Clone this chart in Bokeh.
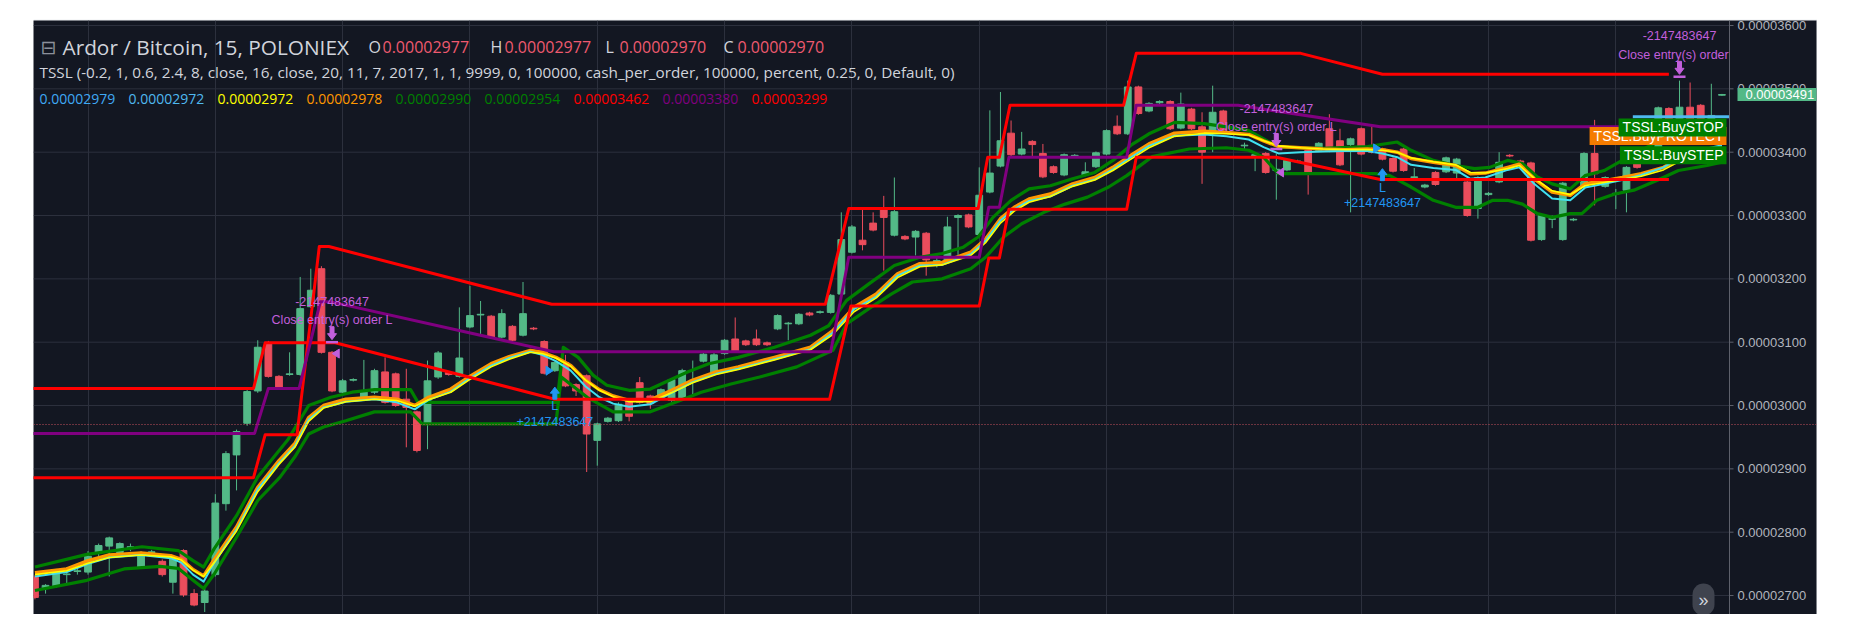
from bokeh.plotting import figure
from bokeh.models import Range1d, FixedTicker, Label, Span, ColumnDataSource, Grid
from bokeh.core.properties import value
from bokeh.embed import file_html
from bokeh.resources import INLINE

SAT = 1e-8  # values below are in satoshi (1e-8 BTC)

OPEN = [2729, 2711, 2715, 2733, 2738, 2737, 2767, 2778, 2768, 2776,
        2745, 2768, 2754, 2721, 2771, 2703, 2689, 2733, 2845, 2922,
        2972, 3023, 3099, 3046, 3049, 3049, 3156, 3216, 3084, 3021,
        3040, 3013, 3021, 3053, 3050, 3010, 2990, 2970, 3045, 3052,
        3046, 3124, 3143, 3141, 3108, 3125, 3111, 3122, 3101, 3055,
        3068, 3033, 3047, 2945, 2975, 2976, 3009, 3036, 3015, 3016,
        3008, 3010, 3039, 3070, 3050, 3082, 3105, 3102, 3105, 3099,
        3121, 3129, 3129, 3146, 3147, 3147, 3176, 3242, 3261, 3288,
        3312, 3269, 3267, 3266, 3272, 3221, 3229, 3297, 3301, 3270,
        3337, 3378, 3430, 3397, 3417, 3398, 3377, 3364, 3394, 3364,
        3377, 3397, 3441, 3429, 3503, 3465, 3478, 3480, 3438, 3468,
        3440, 3432, 3465, 3430, 3410, 3393, 3398, 3371, 3372, 3385,
        3403, 3403, 3437, 3418, 3412, 3437, 3402, 3405, 3390, 3405,
        3360, 3345, 3368, 3369, 3367, 3353, 3311, 3333, 3353, 3395,
        3386, 3383, 3262, 3294, 3262, 3293, 3345, 3398, 3346, 3334,
        3340, 3390, 3385, 3390, 3469, 3442, 3471, 3474, 3442, 3490]
HIGH = [2732, 2718, 2742, 2745, 2744, 2770, 2782, 2793, 2784, 2782,
        2770, 2772, 2757, 2760, 2773, 2710, 2712, 2860, 2928, 2962,
        3025, 3103, 3102, 3048, 3084, 3203, 3216, 3220, 3086, 3042,
        3043, 3072, 3058, 3076, 3052, 3058, 2992, 3071, 3086, 3054,
        3155, 3189, 3165, 3143, 3152, 3127, 3195, 3124, 3103, 3070,
        3080, 3035, 3049, 2973, 2982, 3005, 3011, 3045, 3017, 3027,
        3043, 3058, 3071, 3083, 3083, 3105, 3139, 3104, 3120, 3101,
        3144, 3132, 3146, 3148, 3150, 3176, 3305, 3285, 3310, 3305,
        3331, 3360, 3269, 3277, 3274, 3240, 3298, 3302, 3303, 3376,
        3466, 3495, 3450, 3432, 3419, 3413, 3379, 3398, 3397, 3384,
        3401, 3436, 3458, 3513, 3505, 3479, 3482, 3482, 3494, 3470,
        3463, 3505, 3467, 3432, 3415, 3400, 3400, 3398, 3389, 3388,
        3405, 3416, 3460, 3437, 3423, 3439, 3440, 3407, 3392, 3407,
        3375, 3350, 3370, 3393, 3391, 3355, 3362, 3337, 3400, 3397,
        3388, 3385, 3302, 3300, 3353, 3296, 3400, 3451, 3362, 3342,
        3378, 3392, 3395, 3472, 3471, 3513, 3510, 3476, 3508, 3492]
LOW = [2694, 2703, 2712, 2718, 2733, 2733, 2762, 2730, 2765, 2770,
       2742, 2764, 2730, 2703, 2698, 2683, 2674, 2730, 2834, 2866,
       2968, 3020, 3044, 3027, 3047, 3047, 3154, 3082, 3021, 3018,
       3038, 3011, 3018, 3003, 2998, 2934, 2926, 2931, 3042, 3047,
       3044, 3122, 3113, 3106, 3106, 3101, 3109, 3119, 3049, 3053,
       3029, 3015, 2895, 2905, 2973, 2974, 2975, 3003, 2995, 3014,
       3006, 3008, 3018, 3068, 3048, 3080, 3084, 3094, 3094, 3094,
       3119, 3103, 3127, 3141, 3145, 3145, 3174, 3240, 3245, 3275,
       3213, 3267, 3261, 3237, 3205, 3218, 3227, 3234, 3280, 3268,
       3335, 3376, 3394, 3395, 3392, 3359, 3366, 3362, 3392, 3362,
       3375, 3395, 3427, 3427, 3459, 3463, 3476, 3435, 3436, 3435,
       3350, 3400, 3433, 3426, 3405, 3370, 3366, 3325, 3370, 3383,
       3333, 3401, 3400, 3378, 3305, 3395, 3398, 3387, 3368, 3369,
       3355, 3343, 3347, 3367, 3355, 3298, 3295, 3331, 3351, 3392,
       3382, 3259, 3260, 3280, 3260, 3291, 3343, 3316, 3344, 3310,
       3305, 3374, 3383, 3388, 3443, 3440, 3440, 3440, 3440, 3489]
CLOSE = [2697, 2716, 2738, 2734, 2739, 2762, 2779, 2791, 2782, 2777,
         2767, 2769, 2733, 2758, 2701, 2685, 2707, 2846, 2924, 2959,
         3022, 3092, 3046, 3029, 3050, 3153, 3182, 3084, 3023, 3039,
         3041, 3021, 3055, 3005, 3000, 2997, 2929, 3039, 3083, 3049,
         3075, 3142, 3144, 3108, 3145, 3103, 3145, 3121, 3051, 3068,
         3031, 3023, 2955, 2971, 2980, 3002, 2983, 3005, 3003, 3025,
         3041, 3055, 3040, 3081, 3080, 3103, 3086, 3096, 3096, 3096,
         3142, 3130, 3144, 3143, 3148, 3174, 3262, 3282, 3254, 3277,
         3297, 3306, 3263, 3275, 3230, 3229, 3282, 3300, 3282, 3332,
         3367, 3418, 3396, 3405, 3412, 3361, 3368, 3396, 3395, 3369,
         3399, 3434, 3429, 3503, 3461, 3477, 3480, 3437, 3476, 3437,
         3400, 3463, 3435, 3428, 3411, 3396, 3368, 3373, 3387, 3386,
         3368, 3414, 3402, 3380, 3421, 3397, 3400, 3389, 3370, 3371,
         3361, 3348, 3349, 3391, 3389, 3300, 3360, 3335, 3384, 3394,
         3384, 3261, 3300, 3295, 3351, 3294, 3398, 3366, 3360, 3335,
         3376, 3376, 3392, 3470, 3445, 3471, 3442, 3442, 3458, 3491]

# indicator vertices: (bar index, value in satoshi)
RED_A = [(-0.2, 3027), (20.6, 3027), (21.7, 3099), (28.3, 3099), (49, 3010), (74.9, 3010),
         (76.9, 3157), (89, 3157), (89.9, 3233), (90.9, 3233), (91.8, 3310), (102.9, 3310),
         (103.8, 3392), (117, 3392), (126.8, 3357), (154, 3357)]
RED_B = [(-0.2, 2886), (20.6, 2886), (21.7, 2954), (24.7, 2954), (26.8, 3251), (27.7, 3251),
         (48.7, 3160), (74.5, 3160), (76.7, 3311), (88.9, 3311), (89.8, 3392), (90.9, 3392),
         (91.9, 3474), (102.6, 3474), (103.8, 3556), (119.3, 3556), (127, 3523), (154, 3523)]
PURPLE = [(-0.2, 2956), (20.7, 2956), (22, 3027), (24.9, 3027), (26.9, 3164), (27.8, 3164),
          (48.9, 3085), (75, 3085), (76.7, 3234), (89, 3234), (89.9, 3313), (90.9, 3313),
          (91.8, 3392), (102.9, 3392), (103.8, 3474), (113.4, 3474), (126.8, 3440), (150.5, 3440)]
GREEN_UP = [(0, 2745), (4.9, 2765), (10.1, 2777), (13.5, 2771), (14.9, 2755), (15.9, 2745),
            (16.9, 2774), (19, 2826), (21, 2887), (23.8, 2945), (25.8, 3000), (27.9, 3013),
            (29.9, 3021), (32, 3025), (35.4, 3025), (36.1, 3005), (49.2, 3005), (49.8, 3092),
            (51.2, 3076), (52.6, 3048), (53.9, 3032), (56, 3024), (58, 3026), (59.8, 3040),
            (61.5, 3053), (63.5, 3066), (66.3, 3076), (69.7, 3092), (73.1, 3111), (74.8, 3126),
            (76.5, 3166), (78.6, 3192), (81, 3221), (83.4, 3234), (85.5, 3240), (87.5, 3250),
            (88.9, 3266), (90.3, 3297), (92, 3324), (93.7, 3342), (95.7, 3347), (97.8, 3358),
            (99.9, 3368), (101.6, 3387), (103.3, 3411), (105, 3429), (107.4, 3447), (110.2, 3445),
            (112.3, 3440), (114.4, 3434), (115.8, 3421), (117.2, 3408), (121.4, 3406), (125.6, 3409),
            (128.4, 3416), (129.7, 3403), (131.8, 3387), (133.9, 3379), (135.7, 3374), (137.1, 3376),
            (138.8, 3387), (140.2, 3382), (141.6, 3361), (143, 3350), (144.7, 3342), (146.1, 3363),
            (147.9, 3371), (149.6, 3387), (151.4, 3403), (153.5, 3421), (155.6, 3434), (157.6, 3442),
            (159, 3446)]
GREEN_DN = [(0, 2708), (4.9, 2724), (8.4, 2742), (11.8, 2746), (13.5, 2743), (14.9, 2724),
            (15.9, 2711), (16.9, 2734), (19, 2792), (21, 2850), (23.1, 2887), (24.5, 2919),
            (25.8, 2955), (27.2, 2966), (29.3, 2976), (32, 2990), (35.4, 2990), (36.5, 2971),
            (49.1, 2971), (49.6, 3045), (52.05, 3013), (54.5, 2990), (58, 2990), (60.8, 3008),
            (62.8, 3021), (65.6, 3034), (68.3, 3045), (71.8, 3061), (75.2, 3087), (76.5, 3129),
            (78.6, 3153), (80.7, 3176), (82.7, 3195), (85.5, 3200), (88.2, 3216), (89.6, 3234),
            (91.3, 3266), (93, 3287), (95.1, 3305), (97.1, 3318), (99.2, 3329), (101.2, 3345),
            (102.9, 3363), (105.3, 3393), (108.8, 3405), (112.3, 3407), (114.4, 3403), (115.8, 3392),
            (117.2, 3366), (126.3, 3366), (127.7, 3363), (129.7, 3345), (131.8, 3324), (133.9, 3313),
            (136, 3313), (137.4, 3324), (138.8, 3324), (140.2, 3318), (141.6, 3303), (143, 3297),
            (144.7, 3303), (145.8, 3303), (147.2, 3324), (148.9, 3334), (150.7, 3340), (152.8, 3355),
            (154.9, 3371), (157.6, 3379), (159, 3384)]
ORANGE = [(0, 2736), (3, 2742), (5, 2755), (7, 2764), (10, 2767), (12.8, 2763), (13.8, 2757),
          (14.9, 2741), (15.9, 2731), (16.9, 2757), (19, 2808), (21, 2871), (23, 2913), (24.5, 2940),
          (25.8, 2981), (27.2, 3000), (29.3, 3010), (32, 3013), (34.1, 3010), (35.8, 3000), (37.1, 3013),
          (39.2, 3026), (40.9, 3045), (43, 3066), (44.7, 3077), (46.7, 3087), (47.8, 3084), (49.1, 3076),
          (50.5, 3063), (51.9, 3040), (53.2, 3025), (54.5, 3015), (56, 3008), (58, 3009), (60, 3024),
          (62, 3040), (64.2, 3053), (66.3, 3061), (69.7, 3076), (73.1, 3092), (75.2, 3118), (77.2, 3155),
          (79.3, 3176), (81.3, 3208), (83.4, 3224), (85.5, 3226), (88.2, 3242), (89.6, 3263), (91, 3295),
          (92.3, 3313), (93.7, 3326), (95.7, 3334), (97.8, 3350), (99.9, 3360), (101.6, 3376),
          (103.3, 3395), (105, 3413), (107.4, 3430), (110.2, 3433), (112.3, 3431), (114.4, 3428),
          (115.8, 3418), (117.2, 3409), (119.3, 3407), (121.4, 3405), (123.5, 3404), (125.6, 3405),
          (127, 3404), (128.4, 3400), (129.7, 3390), (131.8, 3384), (133.9, 3379), (135.3, 3366),
          (136.7, 3367), (138.8, 3376), (139.9, 3381), (141.3, 3358), (143, 3337), (144.7, 3332),
          (146.1, 3350), (147.9, 3355), (149.6, 3360), (151.4, 3366), (153.5, 3376), (155.5, 3395),
          (157.6, 3403), (159, 3408)]
YELLOW = [(0, 2733), (3, 2739), (5, 2751), (7, 2760), (10, 2764), (12.8, 2761), (13.8, 2756),
          (14.9, 2740), (15.9, 2730), (16.9, 2752), (19, 2802), (21, 2864), (23, 2907), (24.5, 2934),
          (25.8, 2975), (27.2, 2996), (29.3, 3006), (32, 3010), (34.1, 3008), (35.8, 2999), (37.1, 3009),
          (39.2, 3021), (40.9, 3040), (43, 3061), (44.7, 3073), (46.7, 3084), (47.8, 3082), (49.1, 3075),
          (50.5, 3062), (51.9, 3040), (53.2, 3024), (54.5, 3014), (56, 3006), (58, 3006), (60, 3020),
          (62, 3036), (64.2, 3049), (66.3, 3057), (69.7, 3072), (73.1, 3088), (75.2, 3112), (77.2, 3148),
          (79.3, 3170), (81.3, 3202), (83.4, 3219), (85.5, 3222), (88.2, 3237), (89.6, 3257), (91, 3288),
          (92.3, 3307), (93.7, 3321), (95.7, 3330), (97.8, 3346), (99.9, 3356), (101.6, 3371),
          (103.3, 3389), (105, 3407), (107.4, 3425), (110.2, 3430), (112.3, 3429), (114.4, 3427),
          (115.8, 3418), (117.2, 3410), (119.3, 3407), (121.4, 3405), (123.5, 3404), (125.6, 3404),
          (127, 3403), (128.4, 3400), (129.7, 3391), (131.8, 3385), (133.9, 3380), (135.3, 3368),
          (136.7, 3367), (138.8, 3374), (139.9, 3379), (141.3, 3359), (143, 3339), (144.7, 3333),
          (146.1, 3347), (147.9, 3352), (149.6, 3357), (151.4, 3362), (153.5, 3372), (155.5, 3390),
          (157.6, 3399), (159, 3404)]
CYAN = [(0, 2730), (3, 2737), (5, 2750), (7, 2760), (10, 2764), (12.8, 2759), (13.8, 2752),
        (14.9, 2733), (15.9, 2722), (16.9, 2752), (19, 2804), (21, 2868), (23, 2909), (24.5, 2936),
        (25.8, 2978), (27.2, 2997), (29.3, 3006), (32, 3010), (34.1, 3005), (35.8, 2994), (37.1, 3009),
        (39.2, 3022), (40.9, 3042), (43, 3063), (44.7, 3075), (46.7, 3085), (47.8, 3080), (49.1, 3070),
        (50.5, 3055), (51.9, 3030), (53.2, 3013), (54.5, 3003), (56, 2998), (58, 3002), (60, 3020),
        (62, 3037), (64.2, 3050), (66.3, 3058), (69.7, 3073), (73.1, 3089), (75.2, 3115), (77.2, 3152),
        (79.3, 3172), (81.3, 3205), (83.4, 3221), (85.5, 3222), (88.2, 3239), (89.6, 3260), (91, 3292),
        (92.3, 3310), (93.7, 3323), (95.7, 3330), (97.8, 3347), (99.9, 3357), (101.6, 3373),
        (103.3, 3392), (105, 3410), (107.4, 3426), (110.2, 3428), (112.3, 3425), (114.4, 3420),
        (115.8, 3408), (117.2, 3398), (119.3, 3400), (121.4, 3401), (123.5, 3402), (125.6, 3402),
        (127, 3398), (128.4, 3392), (129.7, 3380), (131.8, 3375), (133.9, 3372), (135.3, 3358),
        (136.7, 3360), (138.8, 3372), (139.9, 3376), (141.3, 3350), (143, 3327), (144.7, 3324),
        (146.1, 3344), (147.9, 3350), (149.6, 3356), (151.4, 3364), (153.5, 3376), (155.5, 3396),
        (157.6, 3406), (159, 3411)]
BUY_STOP = [(150.6, 3456), (159.7, 3456)]
CURSOR_PRICE = 2970
LAST_PRICE = 3491

# strategy signals
CLOSE_SIG_X = [28, 117, 155]
CLOSE_SIG_Y = [3100, 3405, 3519]
CLOSE_SIG_TEXT = ["Close entry(s) order L", "Close entry(s) order L", "Close entry(s) order"]
SELL_FILL_Y = [3082, 3368, 3445]
ENTRY_SIG_X = [49, 127]
ENTRY_SIG_Y = [3029, 3374]
BUY_FILL_Y = [3055, 3406]
QTY_SELL = "-2147483647"
QTY_BUY = "+2147483647"

Y_TICKS = [2700, 2800, 2900, 3000, 3100, 3200, 3300, 3400, 3500, 3600]
X_GRID = [5, 17, 29, 41, 53, 65, 77, 89, 101, 113, 125, 137, 149]

HEADER_OHLC = [("O", "0.00002977"), ("H", "0.00002977"), ("L", "0.00002970"), ("C", "0.00002970")]
TSSL_PARAMS = ("TSSL (-0.2, 1, 0.6, 2.4, 8, close, 16, close, 20, 11, 7, 2017, 1, 1, 9999, 0, 100000, "
               "cash_per_order, 100000, percent, 0.25, 0, Default, 0)")
TSSL_VALUES = ["0.00002979", "0.00002972", "0.00002972", "0.00002978", "0.00002990",
               "0.00002954", "0.00003462", "0.00003380", "0.00003299"]
TSSL_COLORS = ["#3fa9f5", "#4fb9f0", "#ffff00", "#ff9800", "#008000", "#008000", "#ff0000", "#800080", "#ff0000"]

# ---------------------------------------------------------------- layout
BG = "#131722"
FRAME_LEFT, FRAME_TOP = 33, 20          # page position of the dark panel
FRAME_W, FRAME_H = 1783, 594            # dark panel incl. price-scale strip
BAR0_X, BAR_W = 34.45, 10.61            # page x of bar 0, px per bar
X0 = (FRAME_LEFT - BAR0_X) / BAR_W
X_AX = (1729 - BAR0_X) / BAR_W          # price-scale separator
X1 = (FRAME_LEFT + FRAME_W - BAR0_X) / BAR_W
Y1 = 3607.9
Y0 = Y1 - FRAME_H * 1.5789
XPX = (X1 - X0) / FRAME_W
YPX = (Y1 - Y0) / FRAME_H

p = figure(width=FRAME_W + 1, height=FRAME_H + 1, output_backend="svg", toolbar_location=None,
           x_range=Range1d(X0, X1), y_range=Range1d(Y0 * SAT, Y1 * SAT),
           x_axis_location=None, y_axis_location=None,
           background_fill_color=BG, border_fill_color="#dfe1e6", outline_line_color=None,
           min_border_left=0, min_border_top=1, min_border_bottom=0, min_border_right=1)
p.margin = (FRAME_TOP - 1, 0, 0, FRAME_LEFT)

p.xgrid.visible = False
p.ygrid.visible = False
p.add_layout(Grid(dimension=0, ticker=FixedTicker(ticks=X_GRID), grid_line_color="#2c303d", grid_line_width=1))
n = len(Y_TICKS)
tick_y = [t * SAT for t in Y_TICKS]
p.segment(x0=[X0] * n, x1=[X_AX] * n, y0=tick_y, y1=tick_y, line_color="#2c303d", line_width=1)

p.add_layout(Span(location=CURSOR_PRICE * SAT, dimension="width", line_color="#c4505c",
                  line_dash="1 2", line_width=1.2))

# ---------------------------------------------------------------- candles
UP, DOWN = "#53b987", "#eb4d5c"
idx = list(range(len(OPEN)))
cols = [UP if c >= o else DOWN for o, c in zip(OPEN, CLOSE)]
src = ColumnDataSource(dict(
    x=idx, h=[v * SAT for v in HIGH], l=[v * SAT for v in LOW],
    top=[max(o, c) * SAT for o, c in zip(OPEN, CLOSE)],
    bot=[min(o, c) * SAT for o, c in zip(OPEN, CLOSE)], col=cols))
p.segment(x0="x", y0="l", x1="x", y1="h", line_color="col", line_width=1, source=src)
p.vbar(x="x", width=0.64, top="top", bottom="bot", fill_color="col", line_color="col", line_width=1, source=src)

# ---------------------------------------------------------------- indicator lines
def draw(pts, color, w):
    p.line([a for a, b in pts], [b * SAT for a, b in pts], line_color=color, line_width=w,
           line_join="round")

draw(GREEN_UP, "#008000", 3.2)
draw(GREEN_DN, "#008000", 3.2)
draw(ORANGE, "#ff9800", 3.5)
draw(CYAN, "#40e0f0", 2)
draw(YELLOW, "#ffff00", 1.6)
draw(RED_A, "#ff0000", 3)
draw(RED_B, "#ff0000", 3)
draw(PURPLE, "#800080", 3)
draw(BUY_STOP, "#4fb9f0", 3)

# ---------------------------------------------------------------- price scale (right strip)
AX_COL = "#5d606b"
p.add_layout(Span(location=X_AX, dimension="height", line_color=AX_COL, line_width=1))
p.segment(x0=[X_AX] * n, x1=[X_AX + 4 * XPX] * n, y0=tick_y, y1=tick_y, line_color=AX_COL, line_width=1)
p.text(x=[X_AX + 8 * XPX] * n, y=tick_y, text=["%.8f" % v for v in tick_y],
       text_align="left", text_baseline="middle", text_color="#b2b5be",
       text_font=value("Liberation Sans"), text_font_size=value("13px"))
p.add_layout(Label(x=X_AX, y=LAST_PRICE * SAT, x_offset=8, text="%.8f" % (LAST_PRICE * SAT),
                   text_align="left", text_baseline="middle", text_color="#ffffff",
                   text_font="Liberation Sans", text_font_size="13px",
                   background_fill_color="#53b987", padding=dict(left=8, right=12, top=2, bottom=2)))

# ---------------------------------------------------------------- signals
SIG_PURPLE = "#c25fdc"
SIG_BLUE = "#2196f3"
ann_font = value("Liberation Sans")

dxs, dys = [], []
for x, P in zip(CLOSE_SIG_X, CLOSE_SIG_Y):
    T = P + 2.5 * YPX
    dxs.append([x, x - 4.5 * XPX, x - 2 * XPX, x - 2 * XPX, x + 2 * XPX, x + 2 * XPX, x + 4.5 * XPX])
    dys.append([v * SAT for v in [T, T + 6 * YPX, T + 6 * YPX, T + 13 * YPX, T + 13 * YPX, T + 6 * YPX, T + 6 * YPX]])
p.patches(dxs, dys, fill_color=SIG_PURPLE, line_color=SIG_PURPLE)
p.segment(x0=[x - 6 * XPX for x in CLOSE_SIG_X], x1=[x + 6 * XPX for x in CLOSE_SIG_X],
          y0=[v * SAT for v in CLOSE_SIG_Y], y1=[v * SAT for v in CLOSE_SIG_Y],
          line_color=SIG_PURPLE, line_width=2.5)
p.text(x=CLOSE_SIG_X, y=[v * SAT for v in CLOSE_SIG_Y], text=CLOSE_SIG_TEXT, y_offset=-22,
       x_offset=[0, 0, -6], text_align="center", text_baseline="middle", text_color=SIG_PURPLE,
       text_font=ann_font, text_font_size=value("12.5px"))
p.text(x=CLOSE_SIG_X, y=[v * SAT for v in CLOSE_SIG_Y], text=[QTY_SELL] * len(CLOSE_SIG_X), y_offset=-41,
       text_align="center", text_baseline="middle", text_color=SIG_PURPLE,
       text_font=ann_font, text_font_size=value("12.5px"))

txs, tys = [], []
for x, y in zip(CLOSE_SIG_X, SELL_FILL_Y):
    cx = x + 0.35
    txs.append([cx - 3.5 * XPX, cx + 3.5 * XPX, cx + 3.5 * XPX])
    tys.append([y * SAT, (y + 4.5 * YPX) * SAT, (y - 4.5 * YPX) * SAT])
p.patches(txs, tys, fill_color=SIG_PURPLE, line_color=SIG_PURPLE)

uxs, uys = [], []
for x, T in zip(ENTRY_SIG_X, ENTRY_SIG_Y):
    uxs.append([x, x - 4.5 * XPX, x - 2 * XPX, x - 2 * XPX, x + 2 * XPX, x + 2 * XPX, x + 4.5 * XPX])
    uys.append([v * SAT for v in [T, T - 6 * YPX, T - 6 * YPX, T - 12 * YPX, T - 12 * YPX, T - 6 * YPX, T - 6 * YPX]])
p.patches(uxs, uys, fill_color=SIG_BLUE, line_color=SIG_BLUE)
p.text(x=ENTRY_SIG_X, y=[v * SAT for v in ENTRY_SIG_Y], text=["L"] * len(ENTRY_SIG_X), y_offset=19,
       text_align="center", text_baseline="middle", text_color=SIG_BLUE,
       text_font=ann_font, text_font_size=value("12.5px"))
p.text(x=ENTRY_SIG_X, y=[v * SAT for v in ENTRY_SIG_Y], text=[QTY_BUY] * len(ENTRY_SIG_X), y_offset=34,
       text_align="center", text_baseline="middle", text_color=SIG_BLUE,
       text_font=ann_font, text_font_size=value("12.5px"))

bxs, bys = [], []
for x, y in zip(ENTRY_SIG_X, BUY_FILL_Y):
    cx = x - 0.5
    bxs.append([cx + 3.5 * XPX, cx - 3.5 * XPX, cx - 3.5 * XPX])
    bys.append([y * SAT, (y + 4.5 * YPX) * SAT, (y - 4.5 * YPX) * SAT])
p.patches(bxs, bys, fill_color=SIG_BLUE, line_color=SIG_BLUE)

# trade labels at the right edge of the chart area
LBL_PAD = dict(left=4, right=3, top=1, bottom=1)
p.add_layout(Label(x=X_AX, y=3425.5 * SAT, x_offset=-3, text="TSSL:BuyPROTECT", text_align="right",
                   text_baseline="middle", text_color="#ffffff", text_font="Liberation Sans",
                   text_font_size="14px", background_fill_color="#f57c00", padding=LBL_PAD))
p.add_layout(Label(x=X_AX, y=3439 * SAT, x_offset=-3, text="TSSL:BuySTOP", text_align="right",
                   text_baseline="middle", text_color="#ffffff", text_font="Liberation Sans",
                   text_font_size="14px", background_fill_color="#008000", padding=LBL_PAD))
p.add_layout(Label(x=X_AX, y=3395 * SAT, x_offset=-3, text="TSSL:BuySTEP", text_align="right",
                   text_baseline="middle", text_color="#ffffff", text_font="Liberation Sans",
                   text_font_size="14px", background_fill_color="#008000", padding=LBL_PAD))

# ---------------------------------------------------------------- header (page pixel positions)
def head(px, py, text, color, size, font="Open Sans"):
    p.add_layout(Label(x=px - FRAME_LEFT, y=FRAME_H - (py - FRAME_TOP), x_units="screen", y_units="screen",
                       text=text, text_color=color, text_font=font, text_font_size=size,
                       text_align="left", text_baseline="middle"))

head(40, 46, "\u229f", "#8c909b", "19px", "DejaVu Sans")
head(62, 46, "Ardor / Bitcoin, 15, POLONIEX", "#d1d4dc", "20.8px")
for (letter, val), lx in zip(HEADER_OHLC, [368, 490, 605, 723]):
    head(lx, 46, letter, "#d1d4dc", "16px")
    head(lx + 14, 46, val, "#ef5a6f", "16px")
head(39, 71, TSSL_PARAMS, "#d1d4dc", "15.3px")
for k, (v, c) in enumerate(zip(TSSL_VALUES, TSSL_COLORS)):
    head(39 + 89 * k, 98, v, c, "14px")

p.add_layout(Label(x=1703 - FRAME_LEFT, y=FRAME_H - (599 - FRAME_TOP), x_units="screen", y_units="screen",
                   text="\u00bb", text_align="center", text_baseline="middle", text_color="#d1d4dc",
                   text_font_size="18px", background_fill_color="#3f434e", padding=6, border_radius=14))

open("out.html", "w").write(file_html(p, INLINE))
